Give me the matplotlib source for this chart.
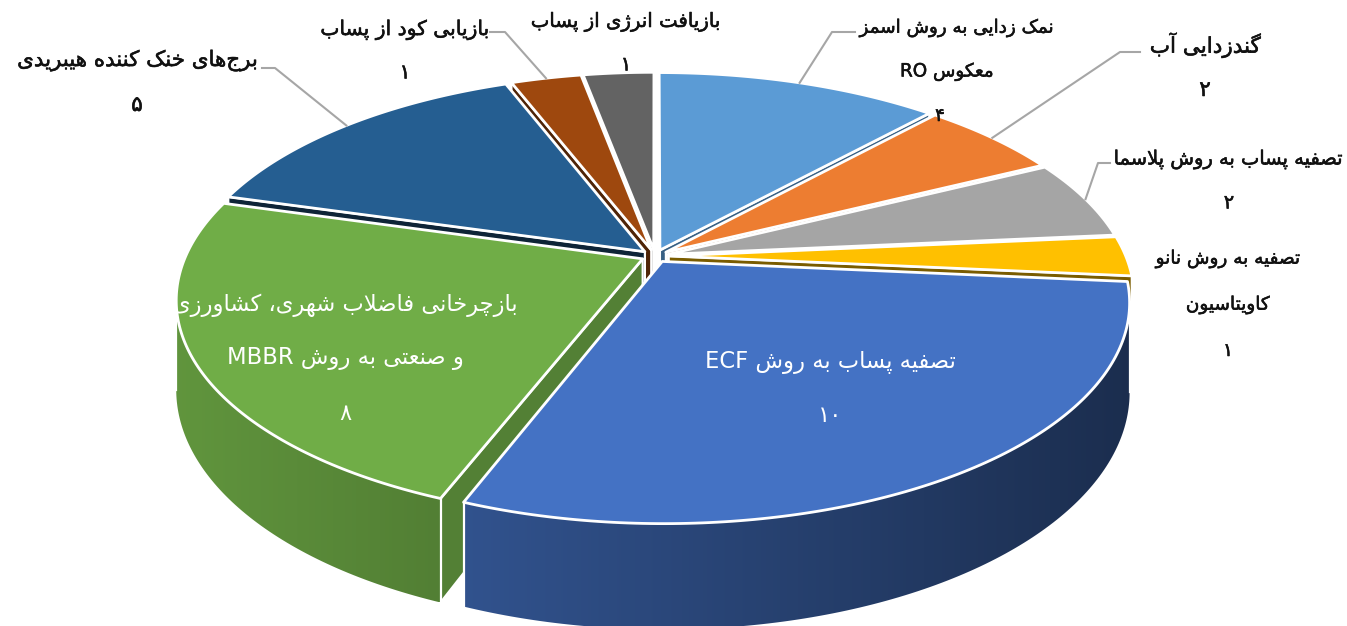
import re
import numpy as np
import matplotlib
matplotlib.use('Agg')
import matplotlib.pyplot as plt
import matplotlib.patheffects as pe
from matplotlib.patches import Polygon

# data
values = [4, 2, 2, 1, 10, 8, 5, 1, 1]
label_lines = [
    ['نمک زدایی به روش اسمز', 'معکوس RO'],
    ['گندزدایی آب'],
    ['تصفیه پساب به روش پلاسما'],
    ['تصفیه به روش نانو', 'کاویتاسیون'],
    ['تصفیه پساب به روش ECF'],
    ['بازچرخانی فاضلاب شهری، کشاورزی', 'و صنعتی به روش MBBR'],
    ['برجهای خنک کننده هیبریدی'],
    ['بازیابی کود از پساب'],
    ['بازیافت انرژی از پساب'],
]

# styles
colors = ['#5B9BD5', '#ED7D31', '#A5A5A5', '#FFC000', '#4472C4',
          '#70AD47', '#255E91', '#9E480E', '#636363']
cut_shade = [0.62, 0.6, 0.6, 0.48, 0.6, 0.74, 0.38, 0.5, 0.6]
text_colors = ['#111111'] * 4 + ['white', 'white'] + ['#111111'] * 3
label_size = [13.2, 15.5, 14, 13.3, 16.3, 16.3, 15.4, 14.6, 14.2]
label_xy = [(953, 28), (1205, 45), (1229, 160), (1228, 259), (830, 363),
            (345, 305), (137, 61), (405, 30), (626, 22)]
line_pitch = [44, 45, 43, 46, 52, 54, 44, 43, 43]
line_dx = {0: [4, -6, -13]}
leader_elbow = {0: [(855, 32), (832, 32)], 1: [(1140, 52), (1120, 52)],
                2: [(1110, 163), (1098, 163)], 6: [(262, 68), (275, 68)],
                7: [(490, 32), (505, 32)]}

# persian shaping, matplotlib has no bidi or joining of its own
forms = {'ا': 'ﺍﺎ', 'آ': 'ﺁﺂ', 'د': 'ﺩﺪ', 'ذ': 'ﺫﺬ', 'ر': 'ﺭﺮ', 'ز': 'ﺯﺰ',
         'ژ': 'ﮊﮋ', 'و': 'ﻭﻮ',
         'ب': 'ﺏﺐﺑﺒ', 'پ': 'ﭖﭗﭘﭙ', 'ت': 'ﺕﺖﺗﺘ', 'چ': 'ﭺﭻﭼﭽ', 'خ': 'ﺥﺦﺧﺨ',
         'س': 'ﺱﺲﺳﺴ', 'ش': 'ﺵﺶﺷﺸ', 'ص': 'ﺹﺺﺻﺼ', 'ض': 'ﺽﺾﺿﻀ', 'ع': 'ﻉﻊﻋﻌ',
         'ف': 'ﻑﻒﻓﻔ', 'ک': 'ﮎﮏﮐﮑ', 'گ': 'ﮒﮓﮔﮕ', 'ل': 'ﻝﻞﻟﻠ', 'م': 'ﻡﻢﻣﻤ',
         'ن': 'ﻥﻦﻧﻨ', 'ه': 'ﻩﻪﻫﻬ', 'ی': 'ﯼﯽﯾﯿ', 'ق': 'ﻕﻖﻗﻘ'}


def joins_next(c):
    return c in forms and len(forms[c]) == 4


def shape(line):
    out = []
    i = 0
    while i < len(line):
        c = line[i]
        prev = line[i - 1] if i else ''
        nxt = line[i + 1] if i + 1 < len(line) else ''
        if c not in forms:
            out.append(c)
        elif c == 'ل' and nxt == 'ا':
            out.append('ﻼ' if joins_next(prev) else 'ﻻ')
            i += 1
        else:
            f = forms[c]
            to_prev = joins_next(prev)
            to_next = joins_next(c) and nxt in forms
            if to_prev and to_next:
                out.append(f[3])
            elif to_next:
                out.append(f[2])
            elif to_prev:
                out.append(f[1])
            else:
                out.append(f[0])
        i += 1
    visual = ''.join(reversed(out))
    return re.sub(r'[A-Za-z۰-۹]+', lambda m: m.group(0)[::-1], visual)


def fa_digits(n):
    return ''.join('۰۱۲۳۴۵۶۷۸۹'[int(d)] for d in str(n))


# pie projection
cx, cy = 655, 256
rx, ry = 457, 212
persp = 0.183
depth = 86
explode = 0.03


def project(u, v, low=False):
    w = 1 / (1 + persp * v)
    x = cx + rx * u * w
    y = cy - ry * v * w
    if low:
        y = y + depth * w
    return x, y


def darker(col, f):
    return tuple(c * f for c in matplotlib.colors.to_rgb(col))


def facing(quad):
    a = 0
    for k in range(len(quad)):
        x0, y0 = quad[k]
        x1, y1 = quad[(k + 1) % len(quad)]
        a += x0 * y1 - x1 * y0
    return a


fig = plt.figure(figsize=(13.47, 6.26), dpi=100)
ax = fig.add_axes([0, 0, 1, 1])
ax.axis('off')

edges = np.cumsum([0] + values) / sum(values) * 2 * np.pi
mids = (edges[:-1] + edges[1:]) / 2
# far slices first so that the near ones paint over them
order = np.argsort(-np.cos(mids))

for i in order:
    t = np.linspace(edges[i], edges[i + 1], max(values[i] * 14, 20))
    ou, ov = explode * np.sin(mids[i]), explode * np.cos(mids[i])
    us = ou + np.sin(t)
    vs = ov + np.cos(t)
    top = [project(u, v) for u, v in zip(us, vs)]
    low = [project(u, v, True) for u, v in zip(us, vs)]
    apex = project(ou, ov)
    apex_low = project(ou, ov, True)

    # the two cut faces, only the ones turned to the viewer
    for rim, rim_low, sign in ((top[0], low[0], -1), (top[-1], low[-1], 1)):
        quad = [apex, rim, rim_low, apex_low]
        if sign * facing(quad) > 0:
            ax.add_patch(Polygon(quad, closed=True, fc=darker(colors[i], cut_shade[i]),
                                 ec='white', lw=1.6, joinstyle='round', zorder=2))

    # outer wall, gradient runs with x
    shown = [k for k in range(len(t) - 1)
             if facing([top[k], top[k + 1], low[k + 1], low[k]]) < 0]
    if shown:
        a, b = shown[0], shown[-1] + 1
        outline = top[a:b + 1] + low[a:b + 1][::-1]
        wall = Polygon(outline, closed=True, fc='none', ec='none', transform=ax.transData)
        ax.add_patch(wall)
        x0 = min(p[0] for p in outline)
        x1 = max(p[0] for p in outline)
        y0 = min(p[1] for p in outline)
        y1 = max(p[1] for p in outline)
        xs = np.linspace(x0, x1, 200)
        shade = 0.86 - (xs - 180) / 950 * 0.46
        grad = np.array([[darker(colors[i], f) for f in shade]])
        im = ax.imshow(grad, extent=(x0, x1, y1, y0), aspect='auto', zorder=2,
                       interpolation='bilinear')
        im.set_clip_path(wall)
        ax.plot([low[a][0], top[a][0]], [low[a][1], top[a][1]], color='white', lw=1.6, zorder=2)
        ax.plot([low[b][0], top[b][0]], [low[b][1], top[b][1]], color='white', lw=1.6, zorder=2)

    ax.add_patch(Polygon([apex] + top, closed=True, fc=colors[i], ec='white',
                         lw=2, joinstyle='round', zorder=2))

# leaders
for i, pts in leader_elbow.items():
    ou, ov = explode * np.sin(mids[i]), explode * np.cos(mids[i])
    end = project(ou + np.sin(mids[i]), ov + np.cos(mids[i]))
    xs = [p[0] for p in pts] + [end[0]]
    ys = [p[1] for p in pts] + [end[1]]
    ax.plot(xs, ys, color='#A6A6A6', lw=1.5, zorder=3)

# labels
for i, lines in enumerate(label_lines):
    x, y = label_xy[i]
    for j, line in enumerate(lines + [fa_digits(values[i])]):
        dx = line_dx[i][j] if i in line_dx else 0
        txt = ax.text(x + dx, y + j * line_pitch[i], shape(line), ha='center', va='center',
                      color=text_colors[i], fontsize=label_size[i],
                      family='DejaVu Sans', zorder=4)
        if text_colors[i] != 'white':
            txt.set_path_effects([pe.withStroke(linewidth=0.4, foreground=text_colors[i])])

ax.set_xlim(0, 1347)
ax.set_ylim(626, 0)
plt.savefig('out.png', dpi=100)
